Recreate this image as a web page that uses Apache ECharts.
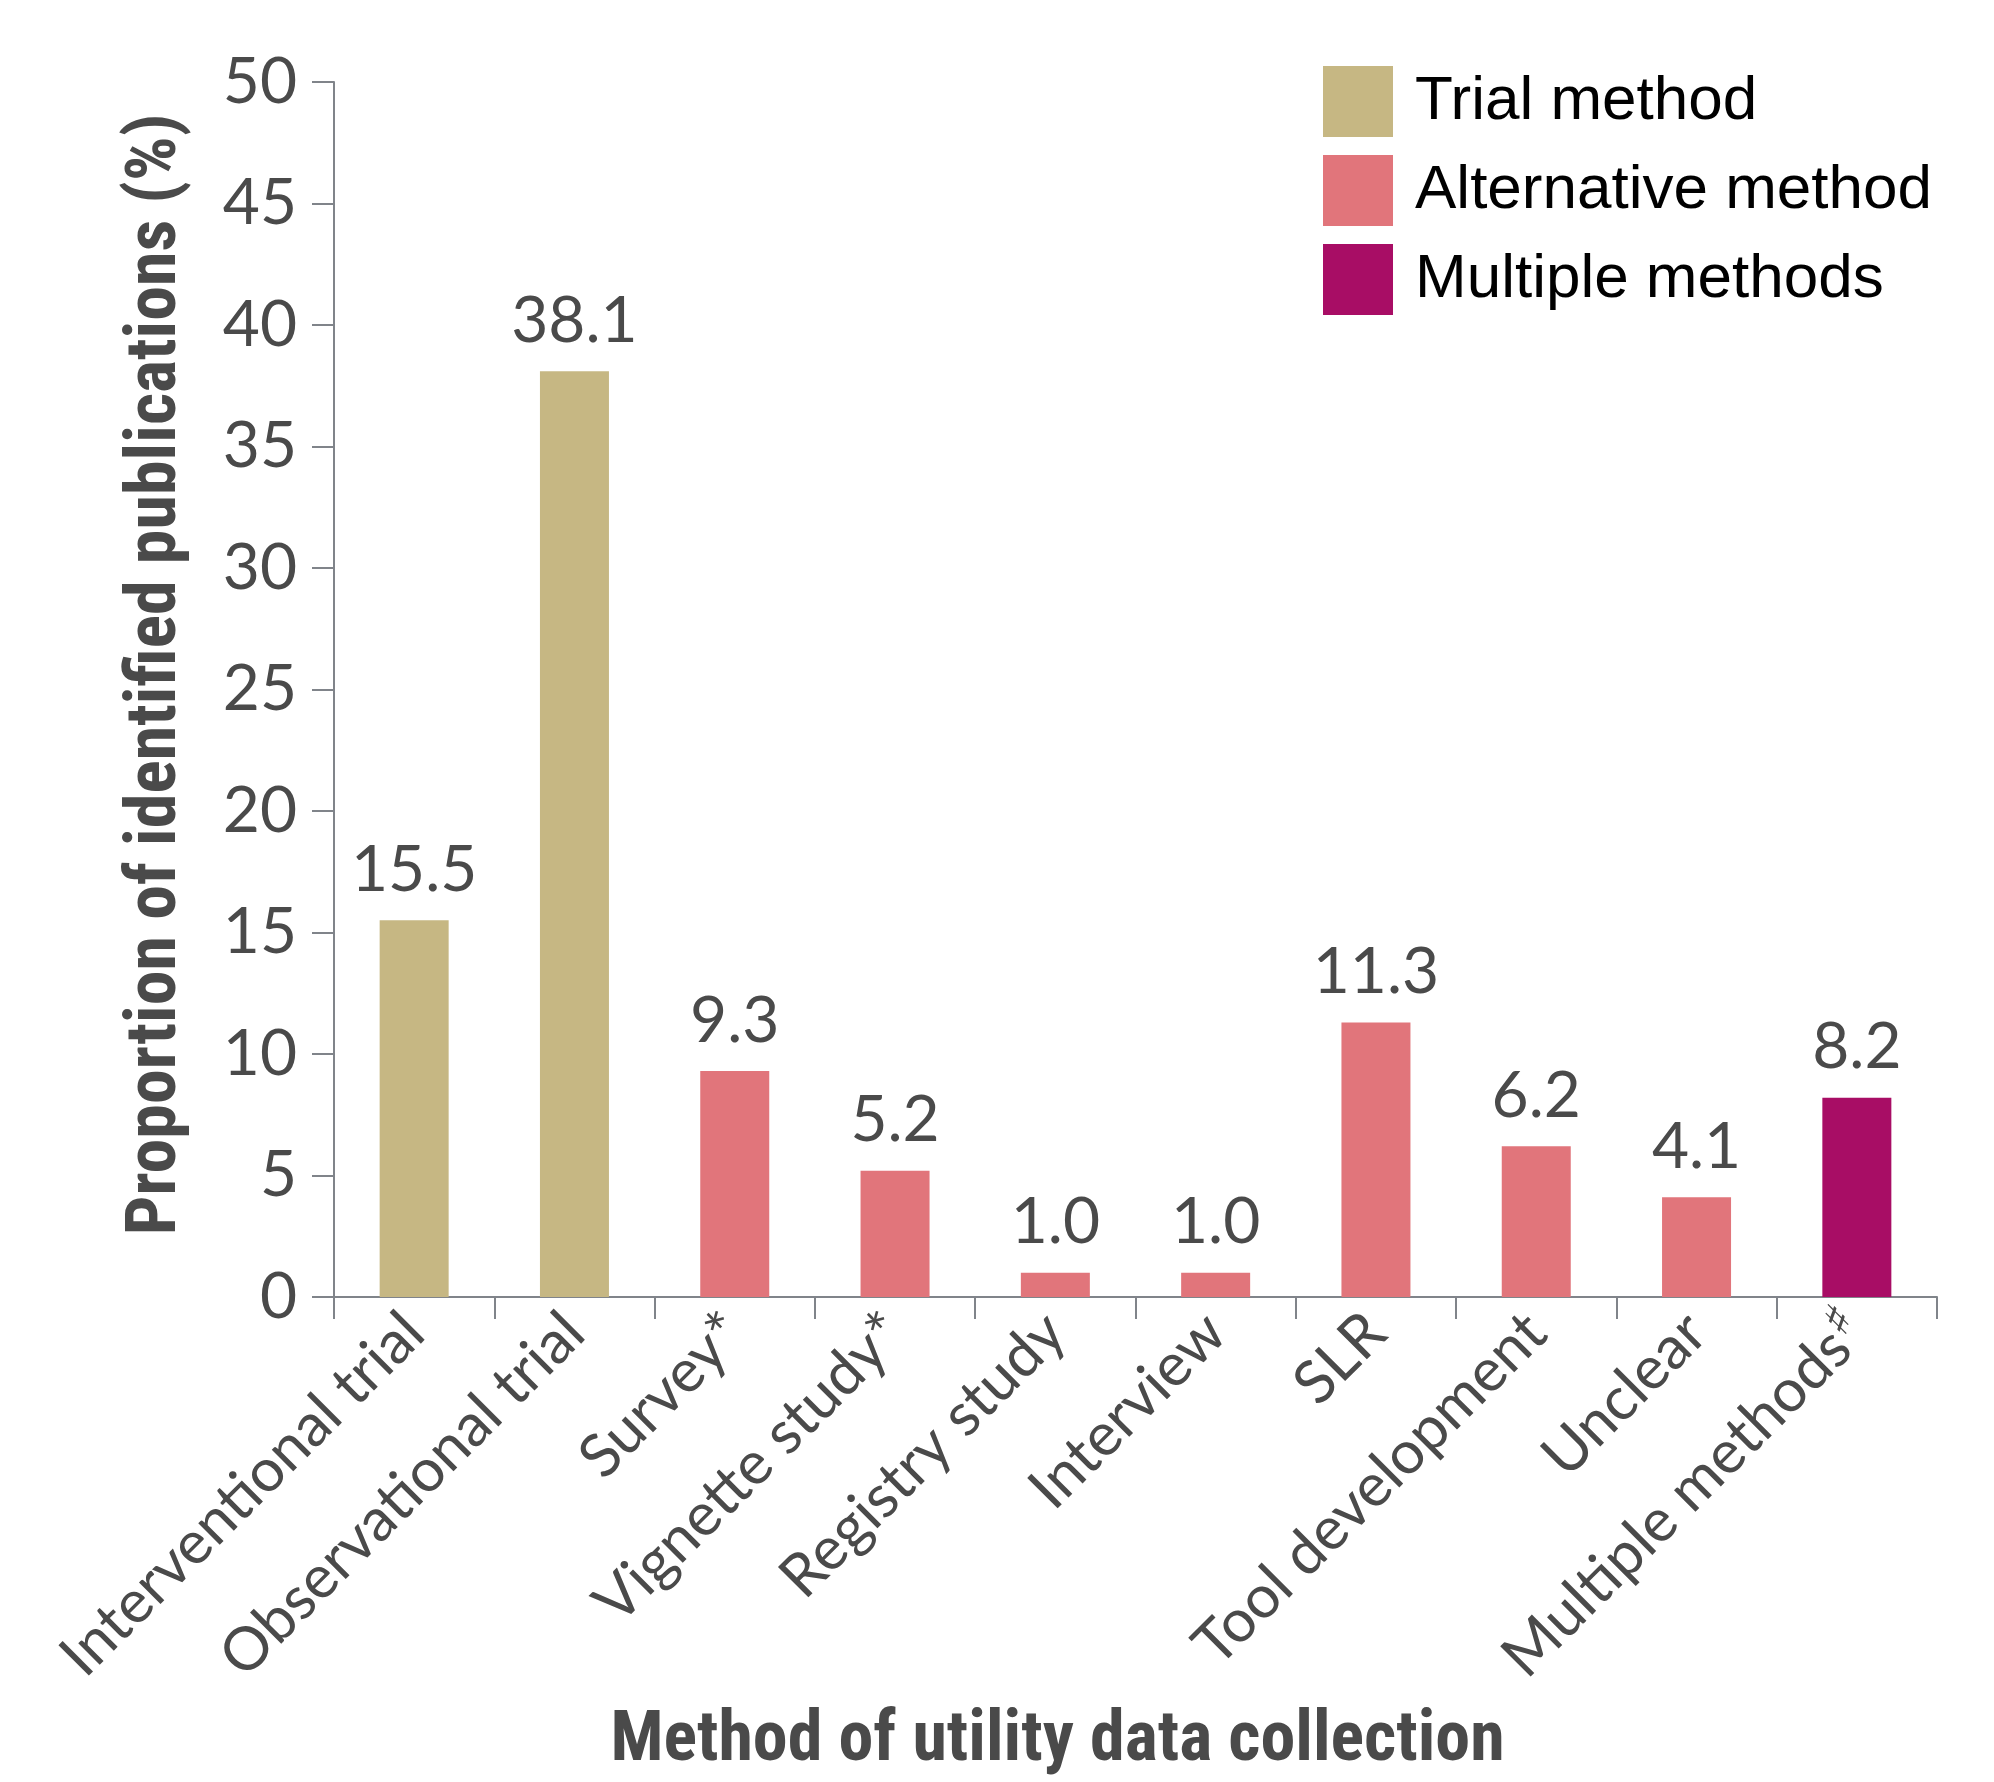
<!DOCTYPE html>
<html>
<head>
<meta charset="utf-8">
<script src="https://cdn.jsdelivr.net/npm/echarts@6/dist/echarts.min.js"></script>
<style>
html,body{margin:0;padding:0;background:#fff;}
#chart{width:1994px;height:1782px;}
</style>
</head>
<body>
<div id="chart"></div>
<script>
const categories = ["Interventional trial","Observational trial","Survey*","Vignette study*","Registry study","Interview","SLR","Tool development","Unclear","Multiple methods\u266F"];
const trialValues = [15.5, 38.1, null, null, null, null, null, null, null, null];
const alternativeValues = [null, null, 9.3, 5.2, 1.0, 1.0, 11.3, 6.2, 4.1, null];
const multipleValues = [null, null, null, null, null, null, null, null, null, 8.2];
const seriesNames = ["Trial method", "Alternative method", "Multiple methods"];
const yTicks = [0, 5, 10, 15, 20, 25, 30, 35, 40, 45, 50];

const colors = ["#C6B783", "#E1757B", "#A80D65"];
const textColor = "#4a4a4a";
const axisColor = "#80848a";
const numFont = "Lato, 'Open Sans', sans-serif";
const narrowFont = "'Liberation Sans Narrow', 'Roboto Condensed', 'DejaVu Sans Condensed', sans-serif";

const chart = echarts.init(document.getElementById('chart'), null, {renderer: 'canvas'});

function mkSeries(name, data, color) {
  return {
    name: name,
    type: 'bar',
    stack: 'all',
    data: data,
    barWidth: 69,
    itemStyle: {color: color},
    label: {
      show: true,
      position: 'top',
      distance: 18,
      fontFamily: numFont,
      fontSize: 64,
      color: textColor,
      formatter: p => (p.value == null ? '' : Number(p.value).toFixed(1))
    }
  };
}

const option = {
  backgroundColor: '#ffffff',
  animation: false,
  color: colors,
  grid: {left: 334, right: 57, top: 82, bottom: 482, containLabel: false},
  legend: {
    orient: 'vertical',
    left: 1318,
    top: 61,
    icon: 'rect',
    itemWidth: 70,
    itemHeight: 71,
    itemGap: 18,
    selectedMode: false,
    data: seriesNames,
    textStyle: {
      fontFamily: "'Liberation Sans', Arial, sans-serif",
      fontSize: 62,
      color: '#000000',
      padding: [0, 0, 0, 17]
    }
  },
  xAxis: {
    type: 'category',
    data: categories,
    boundaryGap: true,
    name: 'Method of utility data collection',
    nameLocation: 'middle',
    nameGap: 410,
    nameTextStyle: {
      fontFamily: narrowFont,
      fontWeight: 'bold',
      fontSize: 70,
      color: textColor,
      padding: [0, 156, 0, 0]
    },
    axisLine: {show: true, lineStyle: {color: axisColor, width: 2}},
    axisTick: {show: true, length: 22, inside: false, alignWithLabel: false, lineStyle: {color: axisColor, width: 2}},
    axisLabel: {
      interval: 0,
      rotate: 45,
      margin: 26,
      fontFamily: numFont,
      fontSize: 60,
      color: textColor,
      formatter: v => v.indexOf('\u266F') >= 0 ? v.replace('\u266F', '') + '{sup|\u266F}' : v,
      rich: {
        sup: {fontSize: 46, verticalAlign: 'top', padding: [0, 0, 24, 0], color: textColor, fontFamily: "'DejaVu Sans', sans-serif"}
      }
    },
    splitLine: {show: false}
  },
  yAxis: {
    type: 'value',
    min: 0,
    max: 50,
    interval: 5,
    name: 'Proportion of identified publications (%)',
    nameLocation: 'middle',
    nameGap: 142,
    nameTextStyle: {
      fontFamily: narrowFont,
      fontWeight: 'bold',
      fontSize: 70,
      color: textColor,
      padding: [0, 0, 0, 30]
    },
    axisLine: {show: true, lineStyle: {color: axisColor, width: 2}},
    axisTick: {show: true, length: 22, inside: false, lineStyle: {color: axisColor, width: 2}},
    axisLabel: {
      margin: 37,
      fontFamily: numFont,
      fontSize: 64,
      color: textColor,
      formatter: v => (yTicks.indexOf(v) >= 0 ? String(v) : '')
    },
    splitLine: {show: false}
  },
  series: [
    mkSeries(seriesNames[0], trialValues, colors[0]),
    mkSeries(seriesNames[1], alternativeValues, colors[1]),
    mkSeries(seriesNames[2], multipleValues, colors[2])
  ]
};
chart.setOption(option);
</script>
</body>
</html>
